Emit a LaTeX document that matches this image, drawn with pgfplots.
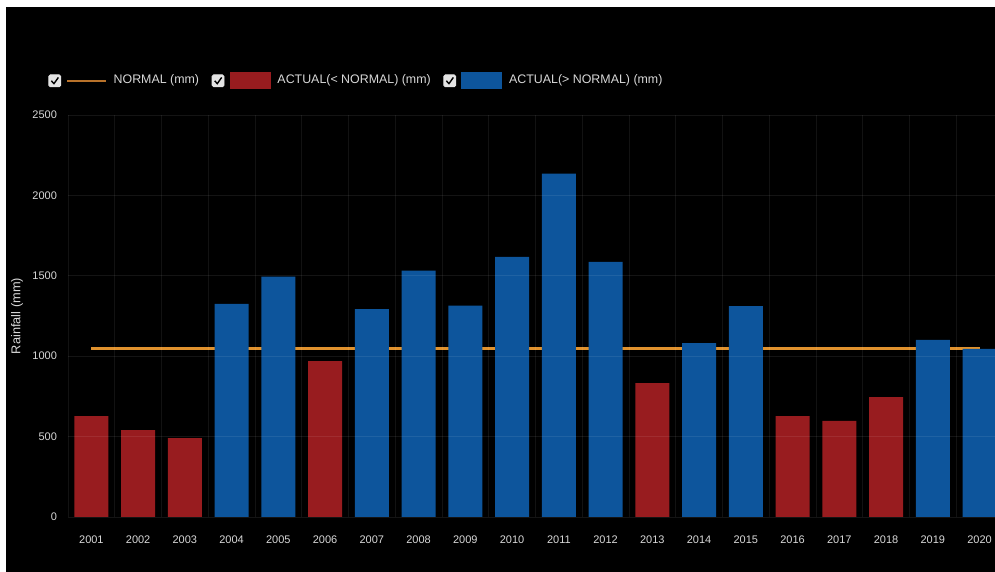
\documentclass[border=0pt]{standalone}
\usepackage{pgfplots}
\pgfplotsset{compat=1.18}
\usepackage{fontspec}
\setmainfont{Liberation Sans}
\definecolor{barred}{HTML}{981C1F}
\definecolor{barblue}{HTML}{0D559C}
\definecolor{normline}{HTML}{E0922E}
\definecolor{normleg}{HTML}{B8722A}
\definecolor{txt}{HTML}{D8D8D8}
\definecolor{chk}{HTML}{E4E4E4}
\begin{document}
\begin{tikzpicture}[x=1pt,y=1pt]
\path[use as bounding box] (0,0) rectangle (497.5,286);
\fill[white] (0,0) rectangle (497.5,286);
\fill[black] (3,0) rectangle (497.5,282.5);
\begin{axis}[
  at={(34pt,27.5pt)}, anchor=south west,
  scale only axis,
  width=463.5pt, height=201pt,
  xmin=-0.5, xmax=19.33,
  ymin=0, ymax=2500,
  ytick={0,500,1000,1500,2000,2500},
  xtick={0,...,19},
  xticklabels={2001,2002,2003,2004,2005,2006,2007,2008,2009,2010,2011,2012,2013,2014,2015,2016,2017,2018,2019,2020},
  minor xtick={-0.5,0.5,...,19.5},
  axis line style={draw=none},
  major tick length=0pt, minor tick length=0pt,
  ymajorgrids, xminorgrids,
  major grid style={white, opacity=0.08, line width=0.4pt},
  minor grid style={white, opacity=0.07, line width=0.4pt},
  axis on top,
  tick label style={font=\fontsize{5.5}{6}\selectfont, text=txt},
  xticklabel style={yshift=-6pt},
  yticklabel style={xshift=-2pt},
  /pgf/number format/assume math mode=true,
  /pgf/number format/1000 sep={},
  ylabel={Rainfall (mm)},
  every axis y label/.style={at={(axis description cs:0,0.5)}, rotate=90, anchor=center, yshift=25.5pt, font=\fontsize{6.4}{7}\selectfont, text=txt},
  clip=true,
  legend style={at={(axis description cs:-0.0216,1.085)}, anchor=west, draw=none, fill=none, text=txt, font=\fontsize{6.2}{7}\selectfont, legend columns=-1, /tikz/every odd column/.append style={column sep=1.5pt}, /tikz/every even column/.append style={column sep=4.3pt}, inner sep=0pt},
]
\addplot[draw=normline, line width=1.5pt, forget plot] coordinates {(0,1045) (19,1045)};
\addplot[ybar, bar width=17pt, bar shift=0pt, draw=none, fill=barred, forget plot] coordinates {
(0,628) (1,541) (2,491) (5,970) (12,833) (15,628) (16,597) (17,746)};
\addplot[ybar, bar width=17pt, bar shift=0pt, draw=none, fill=barblue, forget plot] coordinates {
(3,1325) (4,1495) (6,1292) (7,1532) (8,1314) (9,1617) (10,2135) (11,1586) (13,1082) (14,1312) (18,1101) (19,1045)};
\addlegendimage{legend image code/.code={
  \fill[chk, rounded corners=0.8pt] (0pt,-3pt) rectangle (6pt,3pt);
  \draw[black, line width=0.7pt] (1.3pt,0pt) -- (2.6pt,-1.4pt) -- (4.8pt,1.7pt);
  \draw[normleg, line width=0.9pt] (9pt,0pt) -- (28.5pt,0pt);
}}
\addlegendentry{NORMAL (mm)}
\addlegendimage{legend image code/.code={
  \fill[chk, rounded corners=0.8pt] (0pt,-3pt) rectangle (6pt,3pt);
  \draw[black, line width=0.7pt] (1.3pt,0pt) -- (2.6pt,-1.4pt) -- (4.8pt,1.7pt);
  \fill[barred] (9pt,-4pt) rectangle (29pt,4pt);
}}
\addlegendentry{ACTUAL(< NORMAL) (mm)}
\addlegendimage{legend image code/.code={
  \fill[chk, rounded corners=0.8pt] (0pt,-3pt) rectangle (6pt,3pt);
  \draw[black, line width=0.7pt] (1.3pt,0pt) -- (2.6pt,-1.4pt) -- (4.8pt,1.7pt);
  \fill[barblue] (9pt,-4pt) rectangle (29pt,4pt);
}}
\addlegendentry{ACTUAL(> NORMAL) (mm)}
\end{axis}
\end{tikzpicture}
\end{document}
